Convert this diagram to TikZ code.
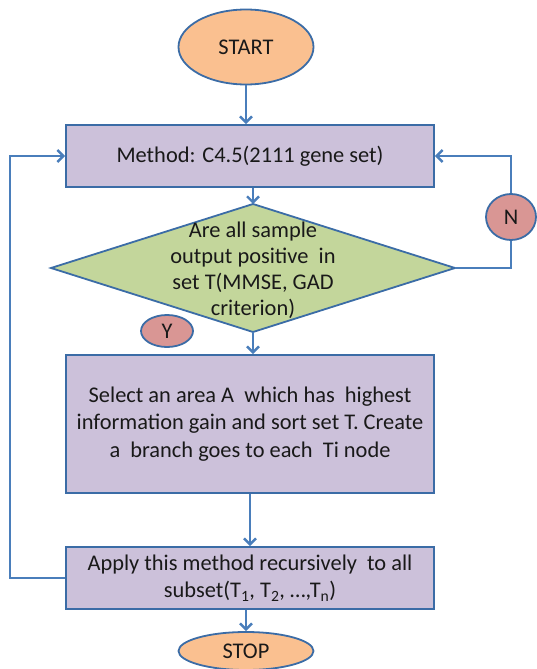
\documentclass[tikz,border=0pt]{standalone}
\usepackage{fontspec}
\setmainfont{Carlito}
\usetikzlibrary{arrows.meta,shapes.geometric}
\definecolor{flow}{HTML}{4A7EBB}
\definecolor{outl}{HTML}{3B6CA6}
\definecolor{orng}{HTML}{FAC090}
\definecolor{purp}{HTML}{CCC1DA}
\definecolor{grn}{HTML}{C3D69B}
\definecolor{rd}{HTML}{D99694}
\tikzset{
  txt/.style={font=\fontsize{22.4}{27.5}\selectfont, text=black!90, align=center},
  term/.style={ellipse, draw=outl, fill=orng, line width=1.8pt, inner sep=0pt, txt},
  procbox/.style={rectangle, draw=outl, fill=purp, line width=1.8pt, minimum width=368pt, inner sep=0pt, txt},
  lbl/.style={ellipse, draw=outl, fill=rd, line width=1.8pt, inner sep=0pt, txt},
  conn/.style={draw=flow, line width=2.4pt, -{Straight Barb[length=6pt,width=12pt,line width=2.4pt]}},
  plain/.style={draw=flow, line width=2.4pt},
}
\begin{document}
\begin{tikzpicture}[x=1pt,y=-1pt]
\useasboundingbox (0,0) rectangle (536,669);
\node[term, minimum width=135pt, minimum height=75pt] (start) at (246,47) {START};
\node[procbox, minimum height=62pt] (method) at (250,156) {Method: C4.5(2111 gene set)};
\coordinate (dT) at (253,204);
\coordinate (dB) at (253,332);
\coordinate (dL) at (51,268);
\coordinate (dR) at (455,268);
\path[draw=outl, fill=grn, line width=1.8pt, line join=miter] (dT) -- (dR) -- (dB) -- (dL) -- cycle;
\node[txt, font=\fontsize{22.4}{26}\selectfont] (dtext) at (253,270) {Are all sample\\output positive\ \ in\\set T(MMSE, GAD\\criterion)};
\node[procbox, minimum height=138pt] (sel) at (250,424) {Select an area A\ \ which has\ \ highest\\information gain and sort set T. Create\\a\ \ branch goes to each\ \ Ti node};
\node[procbox, minimum height=62pt] (apply) at (250,578) {Apply this method recursively\ \ to all\\subset(T\textsubscript{1}, T\textsubscript{2}, \dots,T\textsubscript{n})};
\node[term, minimum width=135pt, minimum height=38pt] (stop) at (246,651) {STOP};
\node[lbl, minimum width=50pt, minimum height=46pt] (nlab) at (511,217) {N};
\node[lbl, minimum width=52pt, minimum height=32pt] (ylab) at (167,331) {Y};
% connectors
\draw[conn] (start) -- (start |- method.north);
\draw[conn] (dT |- method.south) -- (dT);
\draw[conn] (dB) -- (dB |- sel.north);
\draw[conn] (sel.south) -- (apply.north);
\draw[conn] (stop.north |- apply.south) -- (stop);
\draw[conn] (apply.west) -- ++(-55,0) |- (method.west);
\draw[plain] (dR) -- (nlab.south |- dR) -- (nlab.south);
\draw[conn] (nlab.north) |- (method.east);
\end{tikzpicture}
\end{document}
